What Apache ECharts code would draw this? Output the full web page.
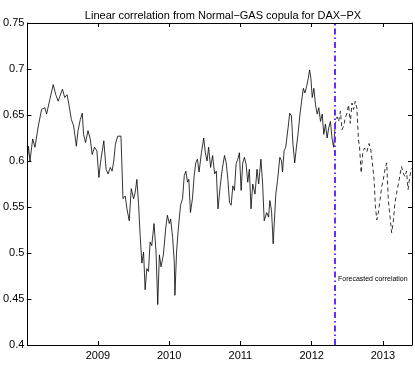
<!DOCTYPE html>
<html>
<head>
<meta charset="utf-8">
<script src="https://cdn.jsdelivr.net/npm/echarts@6/dist/echarts.min.js"></script>
<style>
  html, body { margin: 0; padding: 0; background: #ffffff; }
  #main { width: 415px; height: 378px; }
</style>
</head>
<body>
<div id="main"></div>
<script>
// estimated correlation (decimal year, value)
var estYears = [
  2008.015, 2008.025, 2008.047, 2008.085, 2008.117, 2008.164, 2008.210, 2008.256, 2008.280, 2008.326,
  2008.373, 2008.409, 2008.443, 2008.465, 2008.503, 2008.535, 2008.568, 2008.596, 2008.628, 2008.660,
  2008.698, 2008.721, 2008.753, 2008.781, 2008.799, 2008.827, 2008.861, 2008.893, 2008.920, 2008.953,
  2008.986, 2009.014, 2009.036, 2009.083, 2009.115, 2009.143, 2009.175, 2009.199, 2009.223, 2009.245,
  2009.278, 2009.301, 2009.324, 2009.352, 2009.384, 2009.408, 2009.440, 2009.468, 2009.501, 2009.524,
  2009.547, 2009.571, 2009.593, 2009.617, 2009.641, 2009.663, 2009.687, 2009.710, 2009.733, 2009.756,
  2009.788, 2009.816, 2009.840, 2009.863, 2009.886, 2009.919, 2009.951, 2009.975, 2010.003, 2010.021,
  2010.049, 2010.072, 2010.081, 2010.104, 2010.128, 2010.160, 2010.188, 2010.212, 2010.234, 2010.258,
  2010.276, 2010.299, 2010.327, 2010.351, 2010.373, 2010.397, 2010.420, 2010.453, 2010.485, 2010.508,
  2010.532, 2010.554, 2010.582, 2010.610, 2010.638, 2010.662, 2010.685, 2010.717, 2010.745, 2010.777,
  2010.801, 2010.824, 2010.847, 2010.870, 2010.894, 2010.916, 2010.940, 2010.964, 2010.986, 2011.010,
  2011.033, 2011.056, 2011.079, 2011.103, 2011.125, 2011.149, 2011.173, 2011.205, 2011.233, 2011.256,
  2011.288, 2011.312, 2011.334, 2011.368, 2011.395, 2011.413, 2011.437, 2011.460, 2011.497, 2011.521,
  2011.553, 2011.577, 2011.591, 2011.613, 2011.636, 2011.669, 2011.692, 2011.716, 2011.738, 2011.762,
  2011.786, 2011.808, 2011.836, 2011.859, 2011.883, 2011.905, 2011.929, 2011.953, 2011.971, 2011.989,
  2012.008, 2012.031, 2012.054, 2012.078, 2012.100, 2012.124, 2012.148, 2012.170, 2012.193, 2012.217,
  2012.239, 2012.263, 2012.287, 2012.309, 2012.323
];
var estValues = [
  0.605, 0.616, 0.600, 0.624, 0.615, 0.638, 0.656, 0.658, 0.651, 0.667,
  0.683, 0.672, 0.665, 0.670, 0.678, 0.669, 0.672, 0.660, 0.645, 0.638,
  0.616, 0.633, 0.645, 0.652, 0.629, 0.620, 0.633, 0.624, 0.607, 0.615,
  0.611, 0.582, 0.598, 0.622, 0.591, 0.586, 0.593, 0.589, 0.600, 0.618,
  0.627, 0.629, 0.627, 0.559, 0.562, 0.548, 0.535, 0.570, 0.559, 0.566,
  0.580, 0.553, 0.519, 0.489, 0.501, 0.460, 0.483, 0.480, 0.512, 0.508,
  0.532, 0.501, 0.444, 0.498, 0.485, 0.498, 0.526, 0.541, 0.532, 0.537,
  0.517, 0.490, 0.454, 0.501, 0.526, 0.552, 0.559, 0.584, 0.589, 0.577,
  0.580, 0.544, 0.559, 0.584, 0.598, 0.602, 0.588, 0.609, 0.625, 0.609,
  0.600, 0.615, 0.593, 0.606, 0.586, 0.589, 0.548, 0.573, 0.591, 0.606,
  0.598, 0.580, 0.555, 0.552, 0.573, 0.568, 0.597, 0.602, 0.609, 0.568,
  0.598, 0.604, 0.597, 0.577, 0.591, 0.548, 0.575, 0.564, 0.591, 0.575,
  0.602, 0.575, 0.535, 0.544, 0.539, 0.557, 0.546, 0.510, 0.564, 0.579,
  0.604, 0.600, 0.588, 0.611, 0.615, 0.636, 0.652, 0.649, 0.618, 0.598,
  0.615, 0.629, 0.651, 0.665, 0.679, 0.674, 0.681, 0.690, 0.699, 0.690,
  0.669, 0.679, 0.661, 0.651, 0.658, 0.643, 0.651, 0.629, 0.640, 0.625,
  0.636, 0.643, 0.624, 0.615, 0.631
];

// forecasted correlation
var fcYears = [
  2012.323, 2012.333, 2012.357, 2012.379, 2012.403, 2012.426, 2012.449, 2012.472, 2012.496, 2012.518,
  2012.542, 2012.566, 2012.588, 2012.612, 2012.635, 2012.657, 2012.671, 2012.695, 2012.719, 2012.741,
  2012.774, 2012.806, 2012.830, 2012.852, 2012.876, 2012.894, 2012.914, 2012.936, 2012.960, 2012.983,
  2013.006, 2013.029, 2013.053, 2013.075, 2013.099, 2013.122, 2013.144, 2013.168, 2013.192, 2013.214,
  2013.238, 2013.261, 2013.284, 2013.308, 2013.331, 2013.353, 2013.377, 2013.401
];
var fcValues = [
  0.631, 0.641, 0.648, 0.643, 0.654, 0.634, 0.638, 0.647, 0.652, 0.661,
  0.641, 0.663, 0.656, 0.665, 0.657, 0.623, 0.616, 0.587, 0.610, 0.614,
  0.610, 0.619, 0.612, 0.598, 0.580, 0.551, 0.536, 0.544, 0.558, 0.572,
  0.580, 0.591, 0.598, 0.558, 0.540, 0.522, 0.533, 0.554, 0.565, 0.574,
  0.576, 0.594, 0.587, 0.583, 0.589, 0.569, 0.583, 0.592
];

var yearTicks = [2009, 2010, 2011, 2012, 2013];
var forecastStart = 2012.32;
var xMin = 2008.011, xMax = 2013.408;
var yMin = 0.4, yMax = 0.75, yStep = 0.05;

function pairs(xs, ys) {
  var out = [];
  for (var i = 0; i < xs.length; i++) out.push([xs[i], ys[i]]);
  return out;
}

var font = "'Liberation Sans', Arial, sans-serif";
var chart = echarts.init(document.getElementById("main"), null, { renderer: "canvas" });

var option = {
  animation: false,
  backgroundColor: "#ffffff",
  title: {
    text: "Linear correlation from Normal\u2212GAS copula for DAX\u2212PX",
    left: 218, top: 5, textAlign: "center",
    textStyle: { fontFamily: font, fontSize: 11, fontWeight: "normal", color: "#000" }
  },
  grid: { left: 25, right: 3, top: 23, bottom: 33 },
  xAxis: [
    {
      type: "value", min: xMin, max: xMax, position: "bottom",
      splitLine: { show: false },
      axisLine: { lineStyle: { color: "#000", width: 1 } },
      axisTick: { inside: true, length: 4, customValues: yearTicks, lineStyle: { color: "#000" } },
      axisLabel: { customValues: yearTicks, color: "#000", fontFamily: font, fontSize: 11, margin: 5,
        formatter: function (v) { return String(Math.round(v)); } }
    },
    {
      type: "value", min: xMin, max: xMax, position: "top",
      splitLine: { show: false },
      axisLine: { lineStyle: { color: "#000", width: 1 } },
      axisTick: { inside: true, length: 4, customValues: yearTicks, lineStyle: { color: "#000" } },
      axisLabel: { show: false }
    }
  ],
  yAxis: [
    {
      type: "value", min: yMin, max: yMax, interval: yStep, position: "left",
      splitLine: { show: false },
      axisLine: { show: true, lineStyle: { color: "#000", width: 1 } },
      axisTick: { show: true, inside: true, length: 4, lineStyle: { color: "#000" } },
      axisLabel: { color: "#000", fontFamily: font, fontSize: 11, margin: 3 }
    },
    {
      type: "value", min: yMin, max: yMax, interval: yStep, position: "right",
      splitLine: { show: false },
      axisLine: { show: true, lineStyle: { color: "#000", width: 1 } },
      axisTick: { show: true, inside: true, length: 4, lineStyle: { color: "#000" } },
      axisLabel: { show: false }
    }
  ],
  series: [
    {
      name: "estimated", type: "line", showSymbol: false, symbol: "none",
      data: pairs(estYears, estValues),
      lineStyle: { color: "#000", width: 0.8 },
      markLine: {
        silent: true, symbol: "none",
        label: { show: false },
        lineStyle: { color: "#6a2cff", width: 2, type: [6, 3, 1.5, 3] },
        data: [{ xAxis: forecastStart }]
      }
    },
    {
      name: "forecast", type: "line", showSymbol: false, symbol: "none",
      data: pairs(fcYears, fcValues),
      lineStyle: { color: "#000", width: 0.8, type: [4, 3] }
    }
  ],
  graphic: [
    {
      type: "text", left: 338, top: 276,
      style: { text: "Forecasted correlation", fill: "#000", font: "7px " + font }
    }
  ]
};

chart.setOption(option);
</script>
</body>
</html>
